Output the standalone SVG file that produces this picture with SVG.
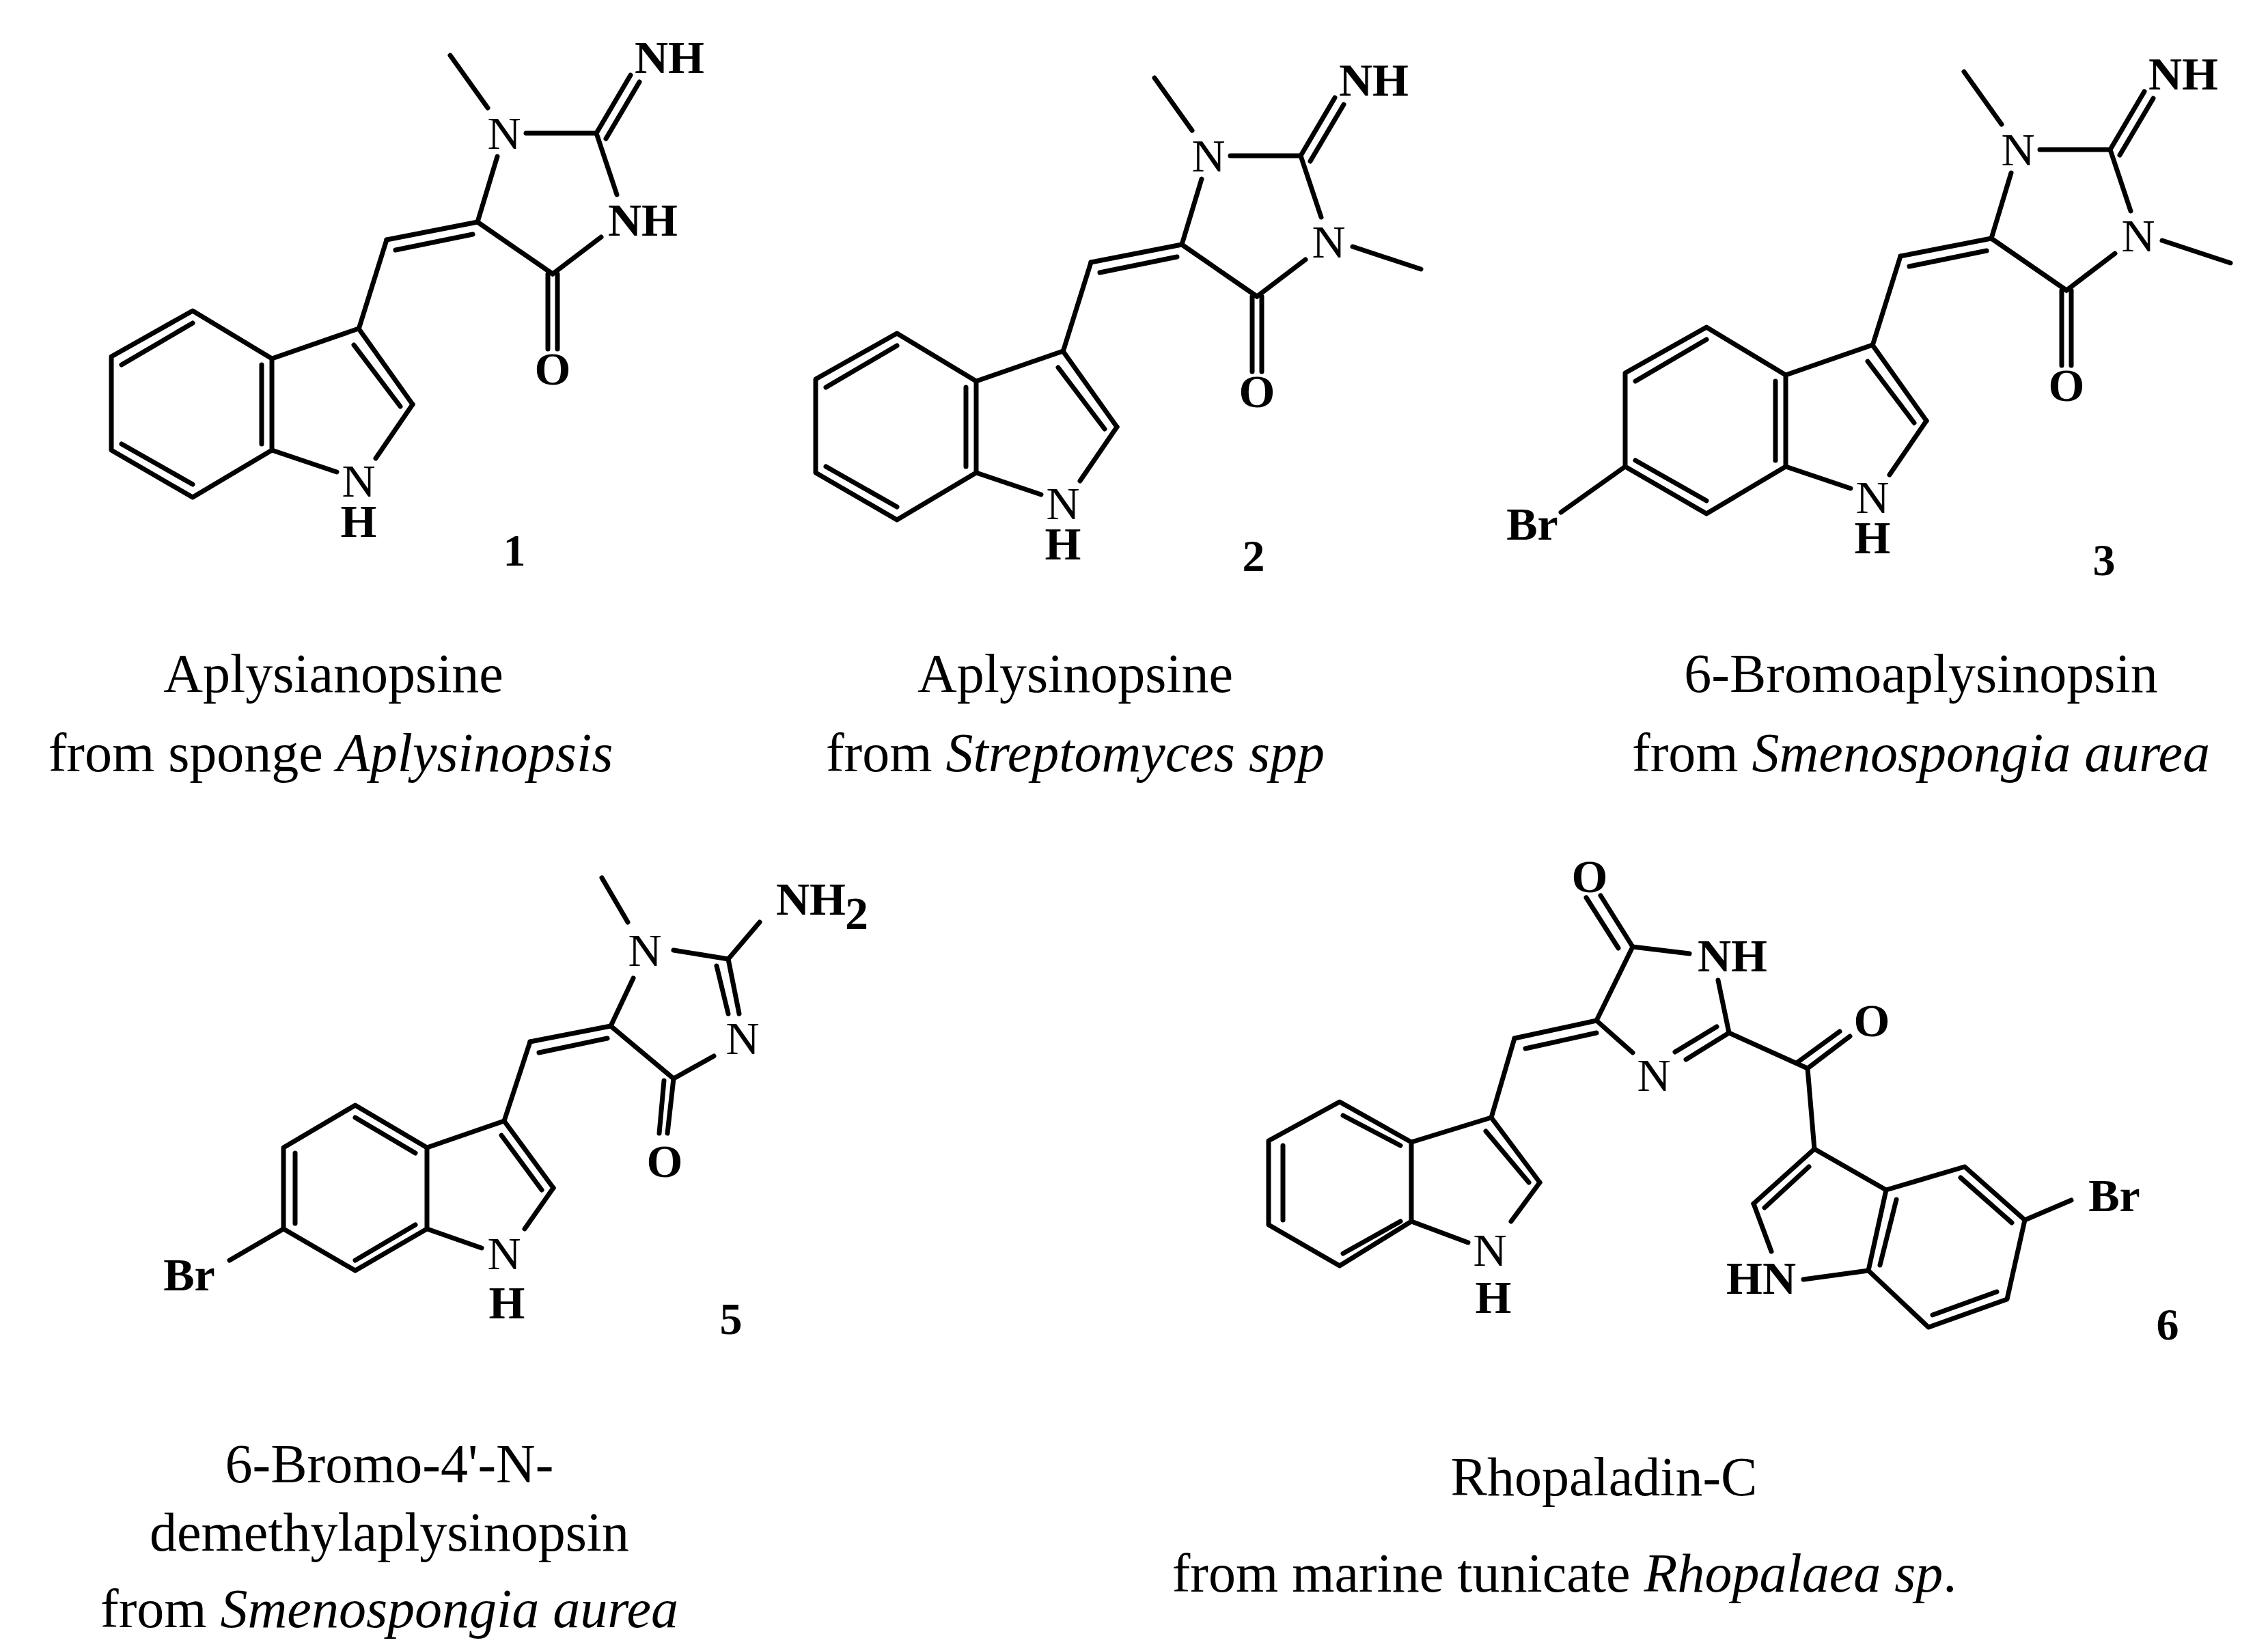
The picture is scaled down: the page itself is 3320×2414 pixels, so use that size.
<svg xmlns="http://www.w3.org/2000/svg" xmlns:xlink="http://www.w3.org/1999/xlink" width="3320" height="2414" viewBox="0 0 3320 2414">
<style>
line,polyline,polygon{stroke:#000;stroke-width:7;fill:none;stroke-linecap:round;stroke-linejoin:round}
.a{font-family:"Liberation Serif",serif;font-size:68px;text-anchor:middle;fill:#000}
.b{font-weight:bold}
.n{font-family:"Liberation Serif",serif;font-size:66px;font-weight:bold;text-anchor:middle;fill:#000}
.c{font-family:"Liberation Serif",serif;font-size:80px;text-anchor:middle;fill:#000}
</style>
<rect width="3320" height="2414" fill="#fff"/>
<defs>
<g id="core">
<polygon points="282,455 163,522 163,659 282,728 398,659 398,525"/>
<line x1="282" y1="473" x2="178" y2="534"/>
<line x1="178" y1="650" x2="282" y2="709"/>
<line x1="383" y1="534" x2="383" y2="650"/>
<line x1="398" y1="525" x2="525" y2="481"/>
<line x1="525" y1="481" x2="604" y2="592"/>
<line x1="518" y1="505" x2="586" y2="595"/>
<line x1="604" y1="592" x2="550" y2="671"/>
<line x1="398" y1="659" x2="493" y2="691"/>
<text class="a" x="525" y="727">N</text>
<text class="a b" x="525" y="786">H</text>
<line x1="525" y1="482" x2="566" y2="351"/>
<line x1="566" y1="351" x2="699" y2="325"/>
<line x1="579" y1="366" x2="692" y2="343"/>
<line x1="699" y1="325" x2="728" y2="229"/>
<text class="a" x="738" y="218">N</text>
<line x1="714" y1="158" x2="659" y2="81"/>
<line x1="770" y1="195" x2="873" y2="195"/>
<line x1="873" y1="195" x2="923" y2="110"/>
<line x1="887" y1="203" x2="936" y2="120"/>
<text class="a b" x="980" y="107">NH</text>
<line x1="873" y1="195" x2="903" y2="285"/>
<line x1="880" y1="347" x2="809" y2="401"/>
<line x1="699" y1="325" x2="809" y2="401"/>
<line x1="802" y1="401" x2="802" y2="511"/>
<line x1="816" y1="401" x2="816" y2="511"/>
<text class="a b" x="809" y="563">O</text>
</g>
</defs>
<g id="c1">
<use xlink:href="#core"/>
<text class="a b" x="941" y="345">NH</text>
<text class="n" x="753" y="828">1</text>
</g>
<g id="c2" transform="translate(1031,33)">
<use xlink:href="#core"/>
<text class="a" x="914" y="344">N</text>
<line x1="949" y1="328" x2="1049" y2="361"/>
</g>
<text class="n" x="1835" y="836">2</text>
<g id="c3" transform="translate(2216,24)">
<use xlink:href="#core"/>
<text class="a" x="914" y="344">N</text>
<line x1="949" y1="328" x2="1049" y2="361"/>
<line x1="163" y1="659" x2="69" y2="726"/>
<text class="a b" x="27" y="766">Br</text>
</g>
<text class="n" x="3080" y="842">3</text>
<g id="c5">
<polygon points="520,1618 415,1680 415,1799 520,1860 625,1799 625,1680"/>
<line x1="520" y1="1636" x2="608" y2="1688"/>
<line x1="432" y1="1688" x2="432" y2="1791"/>
<line x1="520" y1="1845" x2="608" y2="1793"/>
<line x1="625" y1="1680" x2="738" y2="1641"/>
<line x1="738" y1="1641" x2="810" y2="1739"/>
<line x1="734" y1="1662" x2="793" y2="1742"/>
<line x1="810" y1="1739" x2="768" y2="1799"/>
<line x1="625" y1="1799" x2="705" y2="1827"/>
<text class="a" x="738" y="1858">N</text>
<text class="a b" x="742" y="1930">H</text>
<line x1="415" y1="1799" x2="336" y2="1845"/>
<text class="a b" x="277" y="1889">Br</text>
<line x1="738" y1="1641" x2="776" y2="1525"/>
<line x1="776" y1="1525" x2="894" y2="1502"/>
<line x1="789" y1="1541" x2="889" y2="1520"/>
<line x1="894" y1="1502" x2="927" y2="1432"/>
<text class="a" x="944" y="1414">N</text>
<line x1="919" y1="1350" x2="881" y2="1285"/>
<line x1="986" y1="1391" x2="1066" y2="1404"/>
<line x1="1066" y1="1404" x2="1112" y2="1350"/>
<text class="a b" x="1187" y="1339">NH</text>
<text class="a b" x="1254" y="1360" font-size="48">2</text>
<line x1="1066" y1="1404" x2="1082" y2="1484"/>
<line x1="1049" y1="1414" x2="1066" y2="1484"/>
<text class="a" x="1087" y="1543">N</text>
<line x1="1045" y1="1546" x2="986" y2="1579"/>
<line x1="894" y1="1502" x2="986" y2="1579"/>
<line x1="986" y1="1579" x2="977" y2="1659"/>
<line x1="972" y1="1582" x2="965" y2="1659"/>
<text class="a b" x="973" y="1723">O</text>
<text class="n" x="1070" y="1953">5</text>
</g>
<g id="c6">
<polygon points="1961,1613 1857,1670 1857,1793 1961,1853 2066,1788 2066,1672"/>
<line x1="1966" y1="1633" x2="2050" y2="1677"/>
<line x1="1878" y1="1677" x2="1878" y2="1786"/>
<line x1="1966" y1="1835" x2="2050" y2="1788"/>
<line x1="2066" y1="1672" x2="2183" y2="1636"/>
<line x1="2183" y1="1636" x2="2254" y2="1731"/>
<line x1="2175" y1="1656" x2="2238" y2="1731"/>
<line x1="2254" y1="1731" x2="2212" y2="1788"/>
<line x1="2066" y1="1788" x2="2149" y2="1819"/>
<text class="a" x="2181" y="1853">N</text>
<text class="a b" x="2186" y="1922">H</text>
<line x1="2183" y1="1636" x2="2217" y2="1520"/>
<line x1="2217" y1="1520" x2="2337" y2="1494"/>
<line x1="2233" y1="1535" x2="2337" y2="1512"/>
<line x1="2337" y1="1494" x2="2390" y2="1386"/>
<line x1="2390" y1="1386" x2="2343" y2="1311"/>
<line x1="2369" y1="1388" x2="2322" y2="1314"/>
<text class="a b" x="2327" y="1306">O</text>
<line x1="2390" y1="1386" x2="2473" y2="1396"/>
<text class="a b" x="2536" y="1422">NH</text>
<line x1="2515" y1="1435" x2="2531" y2="1512"/>
<line x1="2531" y1="1512" x2="2468" y2="1551"/>
<line x1="2513" y1="1503" x2="2452" y2="1540"/>
<line x1="2337" y1="1494" x2="2390" y2="1541"/>
<text class="a" x="2421" y="1597">N</text>
<line x1="2531" y1="1512" x2="2646" y2="1564"/>
<line x1="2646" y1="1564" x2="2708" y2="1517"/>
<line x1="2630" y1="1556" x2="2693" y2="1510"/>
<text class="a b" x="2740" y="1517">O</text>
<line x1="2646" y1="1564" x2="2656" y2="1682"/>
<line x1="2656" y1="1682" x2="2567" y2="1762"/>
<line x1="2583" y1="1768" x2="2648" y2="1708"/>
<line x1="2567" y1="1762" x2="2593" y2="1832"/>
<text class="a b" x="2578" y="1894">HN</text>
<line x1="2640" y1="1873" x2="2735" y2="1860"/>
<line x1="2656" y1="1682" x2="2761" y2="1742"/>
<polygon points="2761,1742 2876,1708 2964,1786 2938,1902 2823,1943 2735,1860"/>
<line x1="2776" y1="1756" x2="2752" y2="1852"/>
<line x1="2870" y1="1724" x2="2945" y2="1790"/>
<line x1="2923" y1="1891" x2="2829" y2="1925"/>
<line x1="2964" y1="1786" x2="3032" y2="1757"/>
<text class="a b" x="3095" y="1773">Br</text>
<text class="n" x="3173" y="1961">6</text>
</g>
<g id="captions">
<text class="c" x="488" y="1013">Aplysianopsine</text>
<text class="c" x="484" y="1129">from sponge <tspan font-style="italic">Aplysinopsis</tspan></text>
<text class="c" x="1574" y="1013">Aplysinopsine</text>
<text class="c" x="1574" y="1129">from <tspan font-style="italic">Streptomyces spp</tspan></text>
<text class="c" x="2812" y="1013">6-Bromoaplysinopsin</text>
<text class="c" x="2812" y="1129">from <tspan font-style="italic">Smenospongia aurea</tspan></text>
<text class="c" x="570" y="2170">6-Bromo-4'-N-</text>
<text class="c" x="570" y="2270">demethylaplysinopsin</text>
<text class="c" x="570" y="2382">from <tspan font-style="italic">Smenospongia aurea</tspan></text>
<text class="c" x="2348" y="2189">Rhopaladin-C</text>
<text class="c" x="2290" y="2330">from marine tunicate <tspan font-style="italic">Rhopalaea sp</tspan>.</text>
</g>
</svg>
